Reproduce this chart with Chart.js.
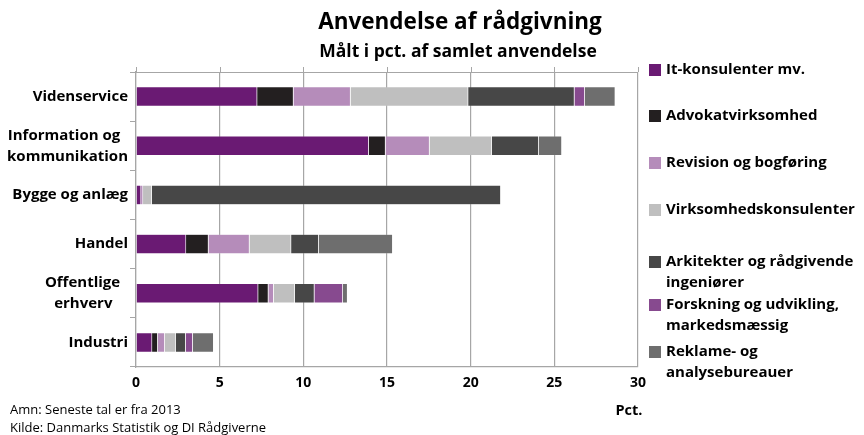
<!DOCTYPE html>
<html>
<head>
<meta charset="utf-8">
<script src="https://cdn.jsdelivr.net/npm/chart.js@4"></script>
<style>
  html, body { margin: 0; padding: 0; background: #fff; }
  #wrap { width: 864px; height: 435px; position: relative; }
</style>
</head>
<body>
<div id="wrap"><canvas id="myChart" width="864" height="435"></canvas></div>
<script>
// categories (top to bottom)
var categories = ['Videnservice', ['Information og  ', 'kommunikation'], 'Bygge og anlæg', 'Handel', ['Offentlige  ', 'erhverv    '], 'Industri'];

// series, pct. of total use
var seriesNames = ['It-konsulenter mv.', 'Advokatvirksomhed', 'Revision og bogføring', 'Virksomhedskonsulenter',
  'Arkitekter og rådgivende\ningeniører', 'Forskning og udvikling,\nmarkedsmæssig', 'Reklame- og\nanalysebureauer'];
var itKonsulenter   = [7.24, 13.91, 0.30, 2.99, 7.30, 0.96];
var advokat         = [2.17, 1.00, 0.00, 1.34, 0.61, 0.34];
var revision        = [3.41, 2.63, 0.12, 2.45, 0.32, 0.42];
var virksomhedskons = [7.03, 3.72, 0.52, 2.49, 1.26, 0.65];
var arkitekter      = [6.35, 2.81, 20.86, 1.65, 1.17, 0.60];
var forskning       = [0.62, 0.00, 0.00, 0.00, 1.70, 0.42];
var reklame         = [1.82, 1.38, 0.00, 4.42, 0.28, 1.25];
var colors = ['#6a1a73', '#231f20', '#b58cba', '#bfbfbf', '#474747', '#874a8f', '#6e6e6e'];

var xTicks = [0, 5, 10, 15, 20, 25, 30];

var FONT = '"Open Sans", Lato, sans-serif';
var allSeries = [itKonsulenter, advokat, revision, virksomhedskons, arkitekter, forskning, reklame];

var datasets = allSeries.map(function (d, i) {
  return {
    label: seriesNames[i],
    data: d,
    backgroundColor: colors[i],
    borderColor: 'rgba(255,255,255,0.25)',
    borderWidth: 0.6,
    barPercentage: 0.4,
    categoryPercentage: 1
  };
});

// title, legend, footnotes and the top axis line
var decor = {
  id: 'decor',
  afterDraw: function (chart) {
    var ctx = chart.ctx;
    var area = chart.chartArea;
    var xs = chart.scales.x;
    ctx.save();
    ctx.fillStyle = '#000';
    ctx.textAlign = 'center';
    ctx.textBaseline = 'middle';
    ctx.font = 'bold 22.5px ' + FONT;
    ctx.fillText('Anvendelse af rådgivning', 460, 23);
    ctx.font = 'bold 17.5px ' + FONT;
    ctx.fillText('Målt i pct. af samlet anvendelse', 458, 52);

    // top line with ticks
    ctx.strokeStyle = '#a6a6a6';
    ctx.lineWidth = 1;
    ctx.beginPath();
    ctx.moveTo(area.left - 6, area.top + 0.5);
    ctx.lineTo(area.right, area.top + 0.5);
    xTicks.forEach(function (t) {
      var px = Math.round(xs.getPixelForValue(t)) + 0.5;
      ctx.moveTo(px, area.top);
      ctx.lineTo(px, area.top - 5);
    });
    ctx.stroke();

    // legend
    var legY = [70, 116, 163, 210, 262, 305, 352];
    ctx.textAlign = 'left';
    ctx.font = 'bold 15px ' + FONT;
    chart.data.datasets.forEach(function (ds, i) {
      ctx.fillStyle = ds.backgroundColor;
      ctx.fillRect(649, legY[i] - 6, 12, 12);
      ctx.fillStyle = '#000';
      ds.label.split('\n').forEach(function (ln, j) {
        ctx.fillText(ln, 666, legY[i] + j * 21);
      });
    });

    ctx.font = 'bold 14.5px ' + FONT;
    ctx.textAlign = 'center';
    ctx.fillText('Pct.', 629, 411);

    ctx.textAlign = 'left';
    ctx.font = '13px ' + FONT;
    ctx.fillText('Amn: Seneste tal er fra 2013', 10, 410);
    ctx.fillText('Kilde: Danmarks Statistik og DI Rådgiverne', 10, 428);
    ctx.restore();
  }
};

var ctx = document.getElementById('myChart').getContext('2d');
var chart = new Chart(ctx, {
  type: 'bar',
  data: {
    labels: categories,
    datasets: datasets
  },
  plugins: [decor],
  options: {
    indexAxis: 'y',
    responsive: false,
    animation: false,
    layout: { padding: { left: 0, right: 226, top: 72, bottom: 38 } },
    plugins: {
      legend: { display: false },
      title: { display: false },
      tooltip: { enabled: false }
    },
    scales: {
      x: {
        stacked: true,
        min: 0,
        max: 30,
        afterBuildTicks: function (s) { s.ticks = xTicks.map(function (v) { return { value: v }; }); },
        afterFit: function (s) { s.height = 30; },
        grid: { color: '#a6a6a6', lineWidth: 1.2, drawTicks: false },
        border: { color: '#a6a6a6', width: 1.2 },
        ticks: { color: '#000', padding: 8, font: { family: FONT, size: 14, weight: 'bold' } }
      },
      y: {
        stacked: true,
        afterFit: function (s) { s.width = 136; },
        grid: { offset: true, drawOnChartArea: false, drawTicks: true, tickLength: 6, color: '#a6a6a6' },
        border: { color: '#a6a6a6', width: 1.2 },
        ticks: { color: '#000', padding: 2, font: { family: FONT, size: 15, weight: 'bold', lineHeight: 1.4 } }
      }
    }
  }
});
</script>
</body>
</html>
